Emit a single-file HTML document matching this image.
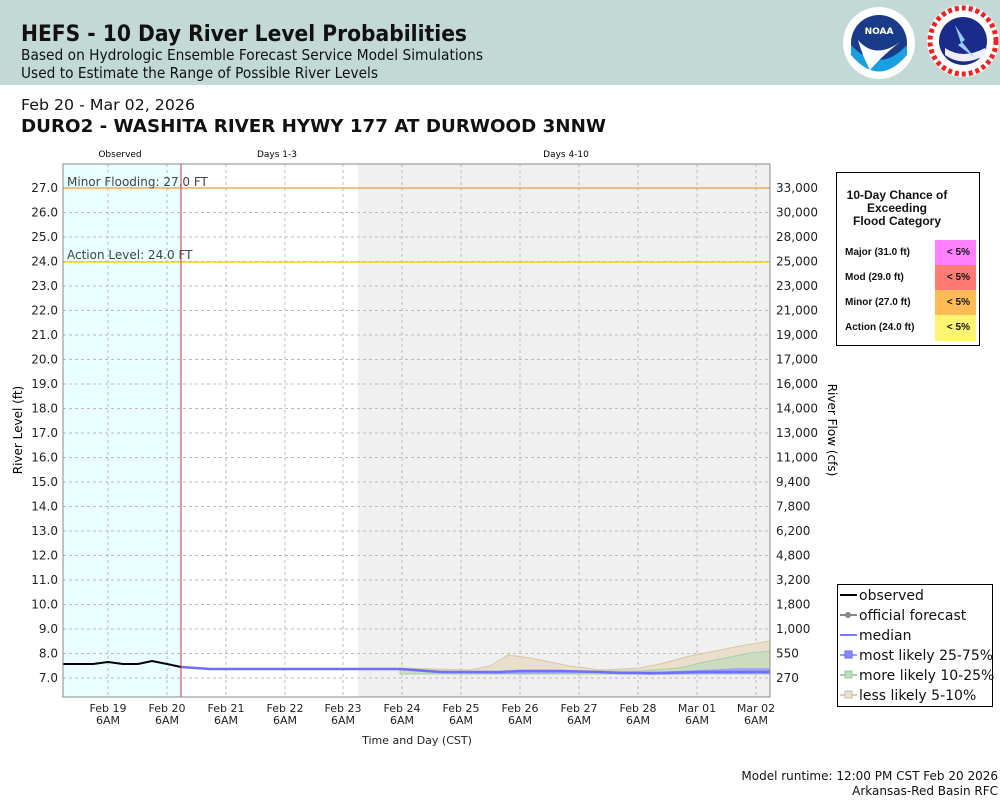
<!DOCTYPE html>
<html><head><meta charset="utf-8"><style>
body{margin:0;width:1000px;height:800px;background:#fff;overflow:hidden;font-family:"DejaVu Sans",sans-serif}
svg{display:block}
</style></head><body>
<svg width="1000" height="800" xmlns="http://www.w3.org/2000/svg" font-family="DejaVu Sans, sans-serif">
<rect x="0" y="0" width="1000" height="85" fill="#c3d9d6"/>
<g font-family="DejaVu Sans, sans-serif">
<text x="21" y="41" font-size="22" font-weight="bold" fill="#111" textLength="446" lengthAdjust="spacingAndGlyphs">HEFS - 10 Day River Level Probabilities</text>
<text x="21" y="60" font-size="15" fill="#111" textLength="462" lengthAdjust="spacingAndGlyphs">Based on Hydrologic Ensemble Forecast Service Model Simulations</text>
<text x="21" y="78" font-size="15" fill="#111" textLength="357" lengthAdjust="spacingAndGlyphs">Used to Estimate the Range of Possible River Levels</text>
<text x="21" y="110" font-size="15" fill="#111" textLength="174" lengthAdjust="spacingAndGlyphs">Feb 20 - Mar 02, 2026</text>
<text x="21" y="132" font-size="18" font-weight="bold" fill="#111" textLength="585" lengthAdjust="spacingAndGlyphs">DURO2 - WASHITA RIVER HYWY 177 AT DURWOOD 3NNW</text>
</g>
<!-- logos -->
<circle cx="879" cy="43" r="36" fill="#fff"/>
<circle cx="879" cy="43" r="28" fill="#1a3b8a"/>
<path d="M851 45 Q879 75 907 45 L907 55 Q879 88 851 55Z" fill="#1aa0e0"/>
<path d="M858 40 Q875 60 900 42 Q882 56 870 70 Q862 55 858 40Z" fill="#fff"/>
<text x="879" y="34" font-size="9" font-weight="bold" fill="#fff" text-anchor="middle">NOAA</text>
<circle cx="963" cy="41" r="36" fill="#fff"/>
<circle cx="963" cy="41" r="24" fill="#1a2b8a"/>
<path d="M945 48 Q963 60 985 48 L985 55 Q963 68 945 55Z" fill="#eef"/>
<path d="M955 25 L965 40 L962 42 L975 58 L958 45 L961 43Z" fill="#9cf"/>
<circle cx="963" cy="41" r="33" fill="none" stroke="#e22" stroke-width="5" stroke-dasharray="4 3"/>
<!-- plot -->
<rect x="63" y="164" width="707" height="533" fill="#fff"/>
<rect x="63" y="164" width="118" height="533" fill="#eaffff"/>
<rect x="358" y="164" width="412" height="533" fill="#f0f0f0"/>
<g stroke="#bbb" stroke-dasharray="3 3" stroke-width="1">
<line x1="63" x2="770" y1="188" y2="188"/><line x1="63" x2="770" y1="212.5" y2="212.5"/><line x1="63" x2="770" y1="237" y2="237"/><line x1="63" x2="770" y1="261.5" y2="261.5"/><line x1="63" x2="770" y1="286" y2="286"/><line x1="63" x2="770" y1="310.5" y2="310.5"/><line x1="63" x2="770" y1="335" y2="335"/><line x1="63" x2="770" y1="359.5" y2="359.5"/><line x1="63" x2="770" y1="384" y2="384"/><line x1="63" x2="770" y1="408.5" y2="408.5"/><line x1="63" x2="770" y1="433" y2="433"/><line x1="63" x2="770" y1="457.5" y2="457.5"/><line x1="63" x2="770" y1="482" y2="482"/><line x1="63" x2="770" y1="506.5" y2="506.5"/><line x1="63" x2="770" y1="531" y2="531"/><line x1="63" x2="770" y1="555.5" y2="555.5"/><line x1="63" x2="770" y1="580" y2="580"/><line x1="63" x2="770" y1="604.5" y2="604.5"/><line x1="63" x2="770" y1="629" y2="629"/><line x1="63" x2="770" y1="653.5" y2="653.5"/><line x1="63" x2="770" y1="678" y2="678"/>
<line y1="164" y2="697" x1="108" x2="108"/><line y1="164" y2="697" x1="167" x2="167"/><line y1="164" y2="697" x1="226" x2="226"/><line y1="164" y2="697" x1="285" x2="285"/><line y1="164" y2="697" x1="343" x2="343"/><line y1="164" y2="697" x1="402" x2="402"/><line y1="164" y2="697" x1="461" x2="461"/><line y1="164" y2="697" x1="520" x2="520"/><line y1="164" y2="697" x1="579" x2="579"/><line y1="164" y2="697" x1="638" x2="638"/><line y1="164" y2="697" x1="697" x2="697"/><line y1="164" y2="697" x1="756" x2="756"/>
</g>
<!-- bands -->
<path d="M400 668 L470 670 L490 666 L508 655 L530 658 L570 666 L600 670 L640 668 L660 664 L690 656 L720 650 L740 646 L770 641 L770 674 L400 674Z" fill="#eadfcc" stroke="#dcc4a4"/>
<path d="M400 668 L470 673 L580 671 L640 671 L680 668 L700 663 L730 657 L750 653 L770 651 L770 674 L400 674Z" fill="#cbdcc0" stroke="#a8d0a0"/>
<path d="M181 666 L210 668 L400 668 L440 671 L500 671 L560 670 L600 671 L650 672 L700 670 L740 668 L770 668 L770 674 L700 674 L650 675 L600 673 L500 674 L440 673 L400 670 L210 670 L181 668Z" fill="#9a9aff" opacity="0.8"/>
<polyline points="181,667 210,669 400,669 440,672 500,672 520,671 560,671 600,672 620,673 660,673 700,672 770,672" fill="none" stroke="#6f6fff" stroke-width="2.5"/>
<polyline points="63,664 93,664 108,662 123,664 138,664 152,661 167,664 181,667" fill="none" stroke="#000" stroke-width="2"/>
<!-- flood lines -->
<line x1="63" x2="770" y1="188" y2="188" stroke="#f39a3c" stroke-width="1.2"/>
<line x1="63" x2="770" y1="262" y2="262" stroke="#f5c800" stroke-width="1.2"/>
<text x="67" y="186" font-size="12" fill="#444">Minor Flooding: 27.0 FT</text>
<text x="67" y="259" font-size="12" fill="#444">Action Level: 24.0 FT</text>
<line x1="181" x2="181" y1="164" y2="697" stroke="#c33" stroke-width="1"/>
<rect x="63" y="164" width="707" height="533" fill="none" stroke="#888"/>
<text x="120" y="157" font-size="9" text-anchor="middle">Observed</text>
<text x="277" y="157" font-size="9" text-anchor="middle">Days 1-3</text>
<text x="566" y="157" font-size="9" text-anchor="middle">Days 4-10</text>
<g font-size="12" fill="#222" text-anchor="end">
<text x="58" y="192">27.0</text><text x="58" y="216.5">26.0</text><text x="58" y="241">25.0</text><text x="58" y="265.5">24.0</text><text x="58" y="290">23.0</text><text x="58" y="314.5">22.0</text><text x="58" y="339">21.0</text><text x="58" y="363.5">20.0</text><text x="58" y="388">19.0</text><text x="58" y="412.5">18.0</text><text x="58" y="437">17.0</text><text x="58" y="461.5">16.0</text><text x="58" y="486">15.0</text><text x="58" y="510.5">14.0</text><text x="58" y="535">13.0</text><text x="58" y="559.5">12.0</text><text x="58" y="584">11.0</text><text x="58" y="608.5">10.0</text><text x="58" y="633">9.0</text><text x="58" y="657.5">8.0</text><text x="58" y="682">7.0</text>
</g>
<g font-size="12" fill="#222">
<text x="776" y="192">33,000</text><text x="776" y="216.5">30,000</text><text x="776" y="241">28,000</text><text x="776" y="265.5">25,000</text><text x="776" y="290">23,000</text><text x="776" y="314.5">21,000</text><text x="776" y="339">19,000</text><text x="776" y="363.5">17,000</text><text x="776" y="388">16,000</text><text x="776" y="412.5">14,000</text><text x="776" y="437">13,000</text><text x="776" y="461.5">11,000</text><text x="776" y="486">9,400</text><text x="776" y="510.5">7,800</text><text x="776" y="535">6,200</text><text x="776" y="559.5">4,800</text><text x="776" y="584">3,200</text><text x="776" y="608.5">1,800</text><text x="776" y="633">1,000</text><text x="776" y="657.5">550</text><text x="776" y="682">270</text>
</g>
<g font-size="11" fill="#222" text-anchor="middle">
<text x="108" y="712">Feb 19</text><text x="108" y="724">6AM</text>
<text x="167" y="712">Feb 20</text><text x="167" y="724">6AM</text>
<text x="226" y="712">Feb 21</text><text x="226" y="724">6AM</text>
<text x="285" y="712">Feb 22</text><text x="285" y="724">6AM</text>
<text x="343" y="712">Feb 23</text><text x="343" y="724">6AM</text>
<text x="402" y="712">Feb 24</text><text x="402" y="724">6AM</text>
<text x="461" y="712">Feb 25</text><text x="461" y="724">6AM</text>
<text x="520" y="712">Feb 26</text><text x="520" y="724">6AM</text>
<text x="579" y="712">Feb 27</text><text x="579" y="724">6AM</text>
<text x="638" y="712">Feb 28</text><text x="638" y="724">6AM</text>
<text x="697" y="712">Mar 01</text><text x="697" y="724">6AM</text>
<text x="756" y="712">Mar 02</text><text x="756" y="724">6AM</text>
<text x="417" y="744">Time and Day (CST)</text>
</g>
<text transform="translate(22,430) rotate(-90)" font-size="12" text-anchor="middle">River Level (ft)</text>
<text transform="translate(828,430) rotate(90)" font-size="12" text-anchor="middle">River Flow (cfs)</text>
<!-- flood table -->
<rect x="836.5" y="172.5" width="143" height="173" fill="#fff" stroke="#000"/>
<g font-family="Liberation Sans, sans-serif" font-weight="bold" fill="#111">
<text x="897" y="199" font-size="12" text-anchor="middle">10-Day Chance of</text>
<text x="897" y="212" font-size="12" text-anchor="middle">Exceeding</text>
<text x="897" y="225" font-size="12" text-anchor="middle">Flood Category</text>
<rect x="935" y="240" width="41" height="25" fill="#ff80ff"/>
<rect x="935" y="265" width="41" height="25" fill="#ff7b73"/>
<rect x="935" y="290" width="41" height="25" fill="#ffbb55"/>
<rect x="935" y="315" width="41" height="26" fill="#fff573"/>
<g font-size="10">
<text x="845" y="255">Major (31.0 ft)</text><text x="845" y="280">Mod (29.0 ft)</text><text x="845" y="305">Minor (27.0 ft)</text><text x="845" y="330">Action (24.0 ft)</text>
<text x="970" y="255" text-anchor="end">&lt; 5%</text><text x="970" y="280" text-anchor="end">&lt; 5%</text><text x="970" y="305" text-anchor="end">&lt; 5%</text><text x="970" y="330" text-anchor="end">&lt; 5%</text>
</g></g>
<!-- legend -->
<rect x="837.5" y="584.5" width="155" height="122" fill="#fff" stroke="#000"/>
<g font-size="14" fill="#111">
<line x1="840" x2="857" y1="595" y2="595" stroke="#000" stroke-width="2"/><text x="859" y="600">observed</text>
<line x1="840" x2="857" y1="615" y2="615" stroke="#888" stroke-width="2"/><circle cx="848" cy="615" r="3" fill="#888"/><text x="859" y="620">official forecast</text>
<line x1="840" x2="857" y1="635" y2="635" stroke="#7777ff" stroke-width="2"/><text x="859" y="640">median</text>
<line x1="840" x2="857" y1="655" y2="655" stroke="#99f" stroke-width="2"/><rect x="845" y="651" width="7" height="7" fill="#88f" stroke="#66f"/><text x="859" y="660">most likely 25-75%</text>
<line x1="840" x2="857" y1="675" y2="675" stroke="#aca" stroke-width="2"/><rect x="845" y="671" width="7" height="7" fill="#bdb" stroke="#9c9"/><text x="859" y="680">more likely 10-25%</text>
<line x1="840" x2="857" y1="695" y2="695" stroke="#dcb" stroke-width="2"/><rect x="845" y="691" width="7" height="7" fill="#eee0d0" stroke="#cba"/><text x="859" y="700">less likely 5-10%</text>
</g>
<g font-size="12" fill="#111" text-anchor="end">
<text x="998" y="780">Model runtime: 12:00 PM CST Feb 20 2026</text>
<text x="998" y="795">Arkansas-Red Basin RFC</text>
</g>
</svg>
</body></html>
